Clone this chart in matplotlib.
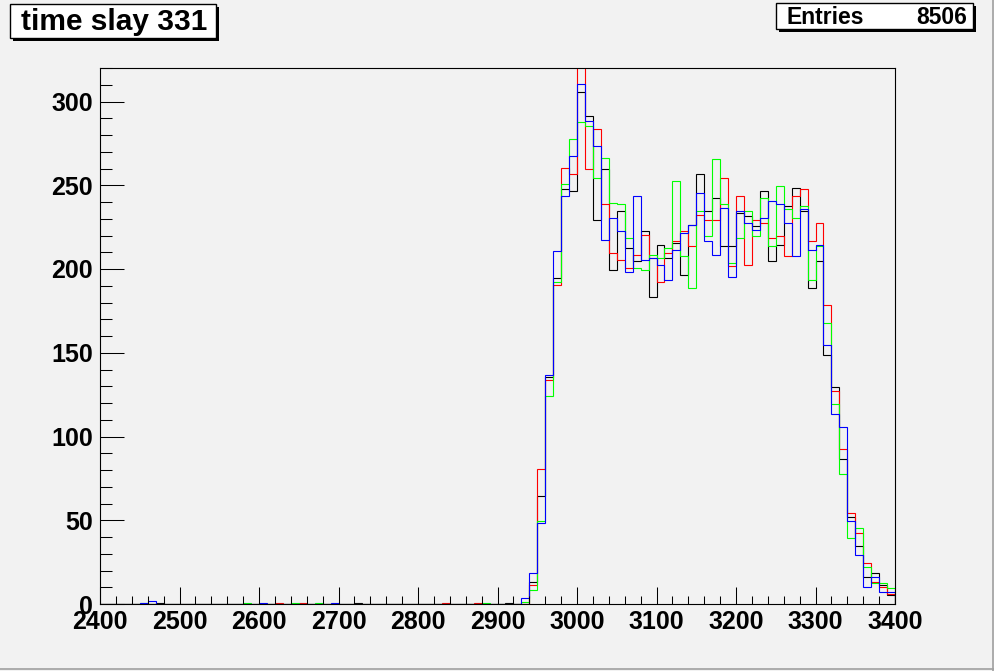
import numpy as np
import matplotlib.pyplot as plt
from matplotlib.patches import Rectangle
from matplotlib.ticker import MultipleLocator

plt.rcParams['font.family'] = ['Liberation Sans', 'DejaVu Sans']
plt.rcParams['font.weight'] = 'bold'

# %% datos: histogramas de 10 en 10 entre 2400 y 3400
edges = np.arange(2400, 3410, 10)
start = 2930  # primer bin con señal

black = [0, 13.0, 64.6, 135.5, 194.7, 247.9, 246.7, 305.9, 291.5, 229.5,
         259.8, 199.4, 234.7, 212.8, 204.8, 222.8, 183.3, 214.4, 206.6, 215.6,
         196.5, 226.0, 256.9, 234.7, 242.5, 213.8, 213.8, 233.5, 231.7, 225.8,
         246.7, 204.8, 214.4, 237.7, 248.5, 234.7, 188.7, 204.8, 148.7, 129.5,
         86.5, 52.0, 34.5, 16.0, 18.3, 11.2, 5.2]
red = [0, 11.4, 80.5, 133.7, 190.5, 260.4, 256.9, 326.0, 259.8, 283.7,
       238.9, 209.6, 205.4, 200.7, 208.4, 220.4, 206.6, 192.3, 209.6, 216.6,
       222.8, 213.8, 232.3, 229.3, 229.3, 254.4, 201.8, 243.7, 202.4, 229.3,
       227.6, 218.6, 219.8, 207.8, 243.7, 247.9, 216.8, 227.6, 178.5, 127.1,
       92.5, 54.2, 42.3, 24.3, 13.0, 10.0, 6.0]
green = [1.0, 8.4, 49.4, 124.1, 192.5, 250.9, 277.8, 287.9, 285.5, 254.4,
         266.4, 239.5, 238.9, 218.6, 200.7, 199.4, 208.4, 206.6, 212.6, 252.7,
         207.8, 188.7, 234.7, 219.8, 265.8, 238.9, 203.6, 218.6, 234.7, 219.8,
         242.5, 213.8, 249.7, 236.0, 230.5, 237.7, 193.5, 213.8, 167.8, 119.4,
         77.5, 39.3, 45.2, 21.9, 12.4, 12.4, 9.4]
blue = [3.4, 18.3, 48.2, 136.7, 210.8, 243.7, 267.6, 310.6, 288.5, 273.6,
        217.6, 230.5, 222.8, 198.3, 243.7, 205.4, 206.8, 202.4, 193.5, 211.4,
        221.6, 226.3, 245.5, 216.8, 208.4, 236.5, 195.3, 234.7, 227.6, 223.4,
        230.5, 240.7, 238.9, 227.6, 207.8, 236.0, 211.4, 214.4, 154.6, 113.4,
        105.6, 49.4, 29.1, 10.0, 16.0, 7.0, 7.0]

# cuentas sueltas antes del pico (bin, valor)
black_low = [(2470, 0.6), (2720, 0.6), (2910, 0.6)]
red_low = [(2620, 0.6), (2650, 0.6), (2830, 0.6), (2870, 0.6)]
green_low = [(2450, 0.6), (2580, 0.6), (2640, 0.6), (2670, 0.6), (2880, 0.6)]
blue_low = [(2450, 0.8), (2460, 1.8), (2600, 0.6), (2690, 0.6)]

entries = 8506
title = 'time slay 331'


def histo(vals, low):
    h = np.zeros(len(edges) - 1)
    i0 = (start - 2400) // 10
    h[i0:i0 + len(vals)] = vals
    for b, v in low:
        h[(b - 2400) // 10] = v
    return h


W, H = 995, 671
bg = '#f2f2f2'
fig = plt.figure(figsize=(W / 100, H / 100), dpi=100, facecolor=bg)
ax = fig.add_axes([100 / W, (H - 604) / H, 795 / W, 536 / H], facecolor=bg)

for vals, low, c in [(black, black_low, 'black'), (red, red_low, '#ff0000'),
                     (green, green_low, '#00ff00'), (blue, blue_low, '#0000ff')]:
    ax.stairs(histo(vals, low), edges, color=c, lw=0.8)

ax.set_xlim(2400, 3400)
ax.set_ylim(0, 320)
for s in ['top', 'right', 'bottom', 'left']:
    ax.spines[s].set_linewidth(0.8)

ax.xaxis.set_major_locator(MultipleLocator(100))
ax.xaxis.set_minor_locator(MultipleLocator(20))
ax.yaxis.set_major_locator(MultipleLocator(50))
ax.yaxis.set_minor_locator(MultipleLocator(10))
ax.tick_params(axis='x', which='major', direction='in', length=12.2, width=0.75,
               labelsize=18, pad=4)
ax.tick_params(axis='x', which='minor', direction='in', length=5.8, width=0.75)
ax.tick_params(axis='y', which='major', direction='in', length=17.3, width=0.75,
               labelsize=18, pad=5)
ax.tick_params(axis='y', which='minor', direction='in', length=8.6, width=0.75)


# %% cajas de título y estadísticas
def caja(x0, y0, x1, y1):
    # coordenadas en píxeles desde arriba a la izquierda
    sh = Rectangle(((x0 + 3) / W, 1 - (y1 + 3) / H), (x1 - x0) / W, (y1 - y0) / H,
                   transform=fig.transFigure, facecolor='black', edgecolor='black', lw=0)
    bx = Rectangle((x0 / W, 1 - y1 / H), (x1 - x0) / W, (y1 - y0) / H,
                   transform=fig.transFigure, facecolor='white', edgecolor='black', lw=1)
    fig.patches.extend([sh, bx])


caja(10, 4, 216, 38)
fig.text(114 / W, 1 - 22 / H, title, ha='center', va='center', fontsize=21.5)

caja(776, 3, 973, 29)
fig.text(787 / W, 1 - 17 / H, 'Entries', ha='left', va='center', fontsize=16.5)
fig.text(967 / W, 1 - 17 / H, str(entries), ha='right', va='center', fontsize=16.5)

# borde del canvas
fig.add_artist(plt.Line2D([993.5 / W, 993.5 / W], [0, 1], transform=fig.transFigure,
                          color='#a0a0a0', lw=1.2))
fig.add_artist(plt.Line2D([0, 1], [2.5 / H, 2.5 / H], transform=fig.transFigure,
                          color='#a0a0a0', lw=1.2))

fig.savefig('out.png', dpi=100, facecolor=bg)
